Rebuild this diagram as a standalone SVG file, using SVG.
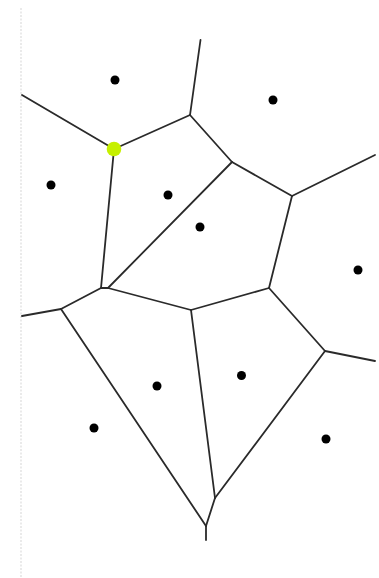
<svg xmlns="http://www.w3.org/2000/svg" width="379" height="578" viewBox="0 0 379 578">
<style>
.edge{stroke:#2a2a2a;stroke-width:1.8;fill:none;stroke-linecap:round;stroke-linejoin:round}
.site{fill:#000}
.border{stroke:#dcdcdc;stroke-width:1.2;stroke-dasharray:2,1.5;fill:none}
</style>
<rect width="379" height="578" fill="#fff"/>
<line class="border" x1="21" y1="8" x2="21" y2="577"/>
<g id="edges">
<line class="edge" x1="22" y1="95" x2="114" y2="149"/>
<line class="edge" x1="114" y1="149" x2="190" y2="115"/>
<line class="edge" x1="190" y1="115" x2="200.5" y2="40"/>
<line class="edge" x1="190" y1="115" x2="232" y2="162"/>
<line class="edge" x1="232" y1="162" x2="292" y2="196"/>
<line class="edge" x1="292" y1="196" x2="375" y2="155"/>
<line class="edge" x1="114" y1="149" x2="101" y2="288"/>
<line class="edge" x1="232" y1="162" x2="108" y2="288"/>
<line class="edge" x1="101" y1="288" x2="108" y2="288"/>
<line class="edge" x1="108" y1="288" x2="191" y2="310"/>
<line class="edge" x1="191" y1="310" x2="269" y2="288"/>
<line class="edge" x1="269" y1="288" x2="292" y2="196"/>
<line class="edge" x1="101" y1="288" x2="61" y2="309"/>
<line class="edge" x1="61" y1="309" x2="22" y2="316"/>
<line class="edge" x1="61" y1="309" x2="206" y2="526"/>
<line class="edge" x1="206" y1="526" x2="206" y2="540"/>
<line class="edge" x1="206" y1="526" x2="215" y2="498"/>
<line class="edge" x1="215" y1="498" x2="191" y2="310"/>
<line class="edge" x1="215" y1="498" x2="325" y2="351"/>
<line class="edge" x1="269" y1="288" x2="325" y2="351"/>
<line class="edge" x1="325" y1="351" x2="375" y2="361"/>
</g>
<g id="sites">
<g id="site1"><circle class="site" cx="115" cy="80" r="4.5"/></g>
<g id="site2"><circle class="site" cx="273" cy="100" r="4.5"/></g>
<g id="site3"><circle class="site" cx="51" cy="185" r="4.5"/></g>
<g id="site4"><circle class="site" cx="168" cy="195" r="4.5"/></g>
<g id="site5"><circle class="site" cx="200" cy="227" r="4.5"/></g>
<g id="site6"><circle class="site" cx="358" cy="270" r="4.5"/></g>
<g id="site7"><circle class="site" cx="241.5" cy="375.5" r="4.5"/></g>
<g id="site8"><circle class="site" cx="157" cy="386" r="4.5"/></g>
<g id="site9"><circle class="site" cx="94" cy="428" r="4.5"/></g>
<g id="site10"><circle class="site" cx="326" cy="439" r="4.5"/></g>
</g>
<g id="vertex-highlight"><circle cx="114" cy="149" r="7.3" fill="#c6f000"/></g>
</svg>
